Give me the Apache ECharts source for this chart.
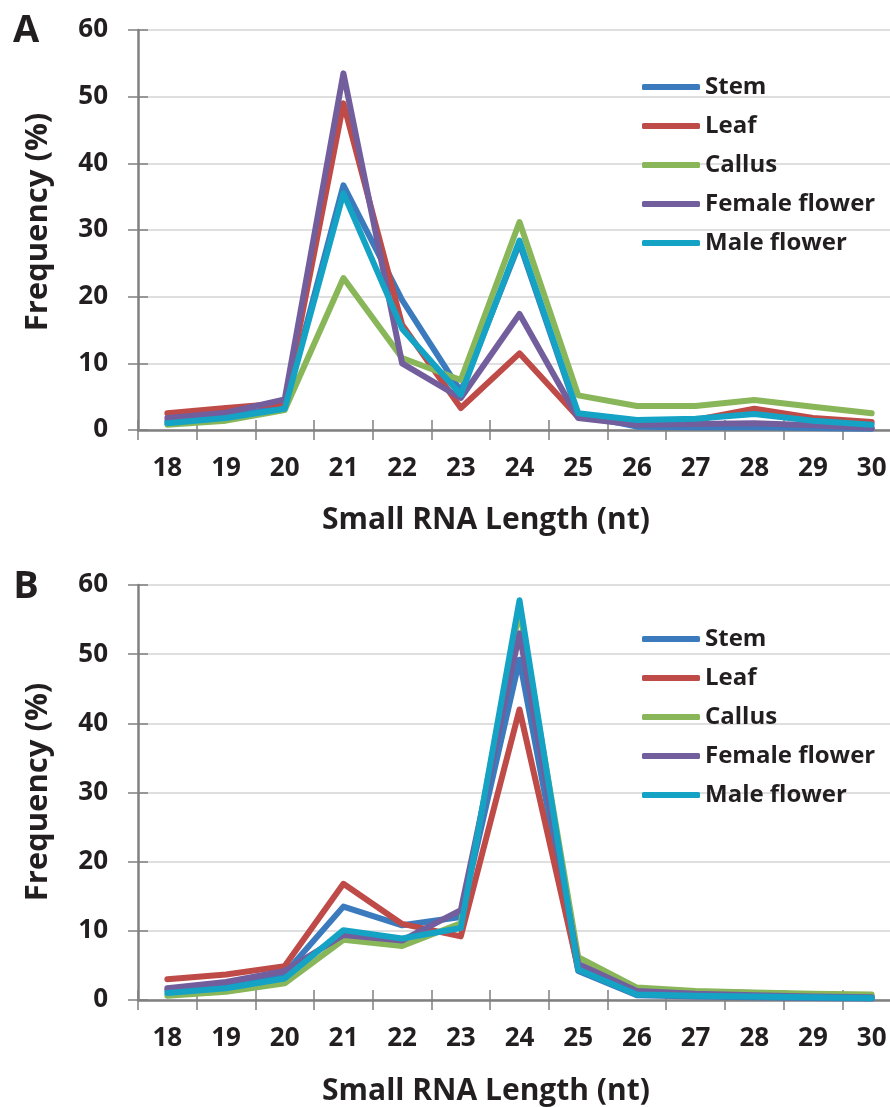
<!DOCTYPE html>
<html>
<head>
<meta charset="utf-8">
<script src="https://cdn.jsdelivr.net/npm/echarts@6/dist/echarts.min.js"></script>
<style>
  html, body { margin: 0; padding: 0; background: #ffffff; overflow: hidden; }
  #chart { width: 912px; height: 1107px; }
</style>
</head>
<body>
<div id="chart"></div>
<script>
// ---- data ----
const categories = ['18','19','20','21','22','23','24','25','26','27','28','29','30'];
const seriesNames = ['Stem','Leaf','Callus','Female flower','Male flower'];
const yMin = 0, yMax = 60, yStep = 10;

// Panel A
const stemA   = [1.3, 2.0, 3.5, 36.7, 19.5, 5.8, 28.0, 2.3, 0.5, 0.4, 0.4, 0.3, 0.2];
const leafA   = [2.5, 3.3, 4.0, 49.0, 15.8, 3.3, 11.5, 1.9, 1.3, 1.5, 3.2, 1.8, 1.2];
const callusA = [0.8, 1.4, 3.0, 22.8, 10.8, 7.5, 31.2, 5.2, 3.6, 3.6, 4.5, 3.5, 2.5];
const femaleA = [1.8, 2.6, 4.6, 53.5, 10.0, 4.8, 17.4, 1.8, 0.8, 0.9, 1.0, 0.7, 0.3];
const maleA   = [1.0, 1.8, 3.2, 35.5, 15.2, 5.3, 28.4, 2.5, 1.5, 1.7, 2.4, 1.4, 0.8];

// Panel B
const stemB   = [1.4, 2.2, 3.8, 13.5, 10.8, 12.0, 49.2, 4.2, 0.7, 0.5, 0.4, 0.3, 0.2];
const leafB   = [3.0, 3.7, 4.9, 16.8, 11.0, 9.2, 42.0, 4.5, 1.5, 1.2, 1.0, 0.8, 0.5];
const callusB = [0.6, 1.2, 2.4, 8.7, 7.8, 11.1, 56.5, 6.2, 1.8, 1.3, 1.1, 0.9, 0.8];
const femaleB = [1.7, 2.6, 4.2, 9.4, 8.6, 13.0, 53.0, 5.2, 1.3, 0.9, 0.7, 0.5, 0.4];
const maleB   = [1.0, 1.7, 3.1, 10.1, 8.9, 10.4, 57.8, 4.4, 0.8, 0.6, 0.5, 0.4, 0.3];

const colors = ['#3b7bbd', '#bf4b48', '#8ab65a', '#735e9d', '#14a3c4'];

// ---- styling helpers ----
const FONT = '"Open Sans", "Liberation Sans", sans-serif';
const TXT = '#231f20';
const AXIS = '#808080';

function xAxesFor(gi) {
  return [
    {
      gridIndex: gi, type: 'category', data: categories, boundaryGap: true, position: 'bottom',
      axisLine: { show: true, lineStyle: { color: AXIS, width: 2.5 } },
      axisTick: { show: true, length: 10, lineStyle: { color: AXIS, width: 1.5 } },
      axisLabel: { fontFamily: FONT, fontWeight: 'bold', fontSize: 26, color: TXT, margin: 26, interval: 0 },
      splitLine: { show: false }
    },
    {
      gridIndex: gi, type: 'category', data: categories, boundaryGap: true, position: 'bottom',
      axisLine: { show: false },
      axisTick: { show: true, inside: true, length: 10, lineStyle: { color: AXIS, width: 1.5 } },
      axisLabel: { show: false }, splitLine: { show: false }
    }
  ];
}
function yAxesFor(gi) {
  return [
    {
      gridIndex: gi, type: 'value', min: yMin, max: yMax, interval: yStep, position: 'left',
      axisLine: { show: true, lineStyle: { color: AXIS, width: 2.5 } },
      axisTick: { show: true, length: 10, lineStyle: { color: AXIS, width: 1.5 } },
      axisLabel: { fontFamily: FONT, fontWeight: 'bold', fontSize: 26, color: TXT, margin: 30 },
      splitLine: { show: true, lineStyle: { color: '#d4d4d4', width: 1.5 } }
    },
    {
      gridIndex: gi, type: 'value', min: yMin, max: yMax, interval: yStep, position: 'left', offset: 0,
      axisLine: { show: false },
      axisTick: { show: true, inside: true, length: 10, lineStyle: { color: AXIS, width: 1.5 } },
      axisLabel: { show: false }, splitLine: { show: false }
    }
  ];
}
function lineSeries(name, data, color, xi, yi) {
  return {
    name, type: 'line', data, xAxisIndex: xi, yAxisIndex: yi,
    symbol: 'none', smooth: false, animation: false,
    lineStyle: { color, width: 6, join: 'round', cap: 'round' },
    itemStyle: { color }
  };
}
function legendFor(top) {
  return {
    orient: 'vertical', left: 637, top, data: seriesNames,
    icon: 'roundRect', itemWidth: 58, itemHeight: 6, itemGap: 15,
    textStyle: { fontFamily: FONT, fontWeight: 'bold', fontSize: 24, color: TXT, lineHeight: 24 },
    selectedMode: false
  };
}

const setA = [stemA, leafA, callusA, femaleA, maleA];
const setB = [stemB, leafB, callusB, femaleB, maleB];
const series = [];
seriesNames.forEach((n, i) => series.push(lineSeries(n, setA[i], colors[i], 0, 0)));
seriesNames.forEach((n, i) => series.push(lineSeries(n, setB[i], colors[i], 2, 2)));

function txt(text, x, y, size, rot) {
  return {
    type: 'text', x, y, rotation: rot || 0, silent: true,
    style: { text, font: 'bold ' + size + 'px ' + FONT, fill: TXT, align: 'center', verticalAlign: 'middle' }
  };
}

const option = {
  backgroundColor: '#ffffff',
  animation: false,
  color: colors,
  grid: [
    { left: 138, top: 30, width: 763, height: 400 },
    { left: 138, top: 585, width: 763, height: 415 }
  ],
  xAxis: [...xAxesFor(0), ...xAxesFor(1)],
  yAxis: [...yAxesFor(0), ...yAxesFor(1)],
  legend: [legendFor(70), legendFor(622)],
  series,
  graphic: [
    txt('A', 26, 31, 38),
    txt('B', 26, 587, 38),
    txt('Frequency (%)', 38, 222, 31, Math.PI / 2),
    txt('Frequency (%)', 38, 792, 31, Math.PI / 2),
    txt('Small RNA Length (nt)', 486, 520, 30),
    txt('Small RNA Length (nt)', 486, 1091, 30)
  ]
};

const chart = echarts.init(document.getElementById('chart'), null, { renderer: 'canvas' });
chart.setOption(option);
</script>
</body>
</html>
